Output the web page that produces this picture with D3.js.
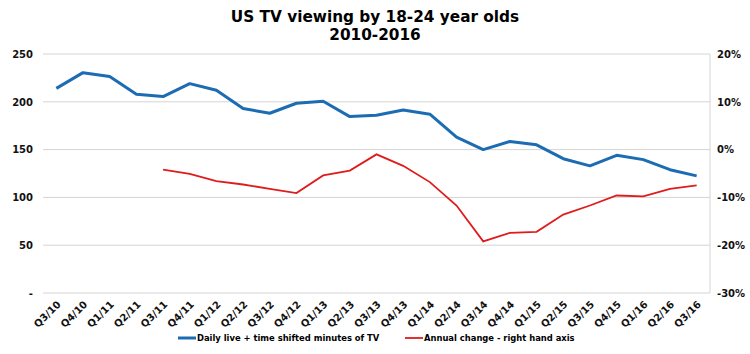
<!DOCTYPE html>
<head>
  <meta charset="utf-8">
  <title>US TV viewing by 18-24 year olds</title>
  <style>
    body { margin: 0; background: #fff; }
    * { font-family: "DejaVu Sans", Verdana, sans-serif; }
    .grid line { stroke: #d4d4d4; stroke-width: 1; }
    .axis text { font-size: 10px; font-weight: bold; fill: #111; }
  </style>
</head>
<body>
  <div id="chart"></div>
  <script src="https://d3js.org/d3.v7.min.js"></script>
  <script>
    const quarters = ['Q3/10', 'Q4/10', 'Q1/11', 'Q2/11', 'Q3/11', 'Q4/11', 'Q1/12', 'Q2/12', 'Q3/12',
      'Q4/12', 'Q1/13', 'Q2/13', 'Q3/13', 'Q4/13', 'Q1/14', 'Q2/14', 'Q3/14', 'Q4/14', 'Q1/15',
      'Q2/15', 'Q3/15', 'Q4/15', 'Q1/16', 'Q2/16', 'Q3/16'];

    // daily live + time shifted minutes
    const minutes = [214, 230.5, 226.5, 208, 205.5, 219, 212, 193, 188, 198.5, 200.5, 184.5, 186,
      191.5, 187, 163, 150, 158.5, 155, 140.5, 133, 144, 139.5, 129, 122.5];

    // annual change, % (none for the first four quarters)
    const change = [null, null, null, null, -4.2, -5.1, -6.6, -7.3, -8.2, -9.1, -5.4, -4.4, -1.0,
      -3.4, -6.8, -11.7, -19.2, -17.4, -17.2, -13.6, -11.7, -9.6, -9.8, -8.2, -7.5];

    const leftTicks = [0, 50, 100, 150, 200, 250];
    const rightTicks = [-30, -20, -10, 0, 10, 20];

    const W = 750, H = 354;
    const margin = { top: 54, right: 40, bottom: 61, left: 43 };
    const width = W - margin.left - margin.right,
      height = H - margin.top - margin.bottom;

    const svg = d3.select('#chart').append('svg')
      .attr('width', W).attr('height', H);

    svg.append('text')
      .attr('x', W / 2).attr('y', 22)
      .attr('text-anchor', 'middle')
      .style('font-size', '15.3px').style('font-weight', 'bold')
      .text('US TV viewing by 18-24 year olds');
    svg.append('text')
      .attr('x', W / 2).attr('y', 39.5)
      .attr('text-anchor', 'middle')
      .style('font-size', '15.3px').style('font-weight', 'bold')
      .text('2010-2016');

    const g = svg.append('g')
      .attr('transform', `translate(${margin.left},${margin.top})`);

    const x = d3.scaleBand().domain(quarters).range([0, width]);
    const y = d3.scaleLinear().domain([0, 250]).range([height, 0]);
    const y2 = d3.scaleLinear().domain([-30, 20]).range([height, 0]);

    // gridlines
    g.append('g').attr('class', 'grid')
      .selectAll('line').data(leftTicks).join('line')
      .attr('x1', 0).attr('x2', width)
      .attr('y1', d => y(d)).attr('y2', d => y(d));

    // right axis line
    g.append('line')
      .attr('x1', width).attr('x2', width)
      .attr('y1', 0).attr('y2', height)
      .attr('stroke', '#d4d4d4');

    const left = g.append('g').attr('class', 'axis')
      .call(d3.axisLeft(y).tickValues(leftTicks).tickSize(0).tickPadding(10)
        .tickFormat(d => d === 0 ? '-' : d));
    left.select('.domain').remove();

    const right = g.append('g').attr('class', 'axis')
      .attr('transform', `translate(${width},0)`)
      .call(d3.axisRight(y2).tickValues(rightTicks).tickSize(0).tickPadding(7)
        .tickFormat(d => d + '%'));
    right.select('.domain').remove();

    const bottom = g.append('g').attr('class', 'axis')
      .attr('transform', `translate(0,${height})`)
      .call(d3.axisBottom(x).tickSize(0).tickPadding(0));
    bottom.select('.domain').remove();
    bottom.selectAll('text')
      .attr('text-anchor', 'end')
      .attr('dy', 0)
      .attr('transform', 'translate(5,12) rotate(-45)');

    const cx = d => x(d) + x.bandwidth() / 2;

    g.append('path')
      .datum(quarters.map((q, i) => [q, minutes[i]]))
      .attr('fill', 'none')
      .attr('stroke', '#1b6cb3')
      .attr('stroke-width', 3)
      .attr('stroke-linejoin', 'round')
      .attr('d', d3.line().x(d => cx(d[0])).y(d => y(d[1])));

    g.append('path')
      .datum(quarters.map((q, i) => [q, change[i]]))
      .attr('fill', 'none')
      .attr('stroke', '#e01b1b')
      .attr('stroke-width', 1.8)
      .attr('d', d3.line().defined(d => d[1] !== null).x(d => cx(d[0])).y(d => y2(d[1])));

    // legend
    const legend = [
      { label: 'Daily live + time shifted minutes of TV', color: '#1b6cb3', w: 3, x: 178 },
      { label: 'Annual change - right hand axis', color: '#e01b1b', w: 1.8, x: 405 }
    ];
    const lg = svg.append('g').selectAll('g').data(legend).join('g')
      .attr('transform', d => `translate(${d.x},338)`);
    lg.append('line')
      .attr('x1', 0).attr('x2', 18)
      .attr('stroke', d => d.color).attr('stroke-width', d => d.w);
    lg.append('text')
      .attr('x', 19).attr('dy', '0.35em')
      .style('font-size', '8.4px').style('font-weight', 'bold')
      .text(d => d.label);
  </script>
</body>
</html>
